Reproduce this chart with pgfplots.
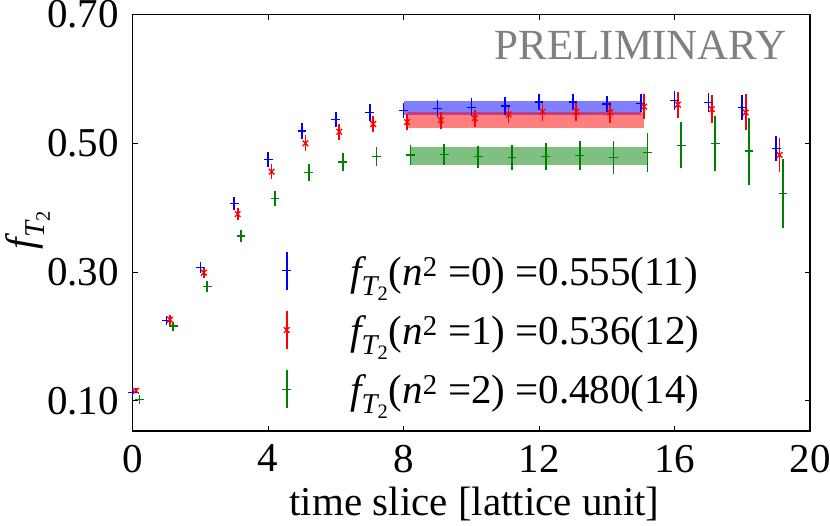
\documentclass[border=0pt]{standalone}
\usepackage{amsmath}
\usepackage{fontspec}
\setmainfont{Liberation Serif}
\usepackage{pgfplots}
\usepackage{pgfplotstable}
\pgfplotsset{compat=1.18}
\definecolor{dgreen}{RGB}{0,128,0}

\pgfplotstableread{
x y e
0 0.113 0.003
1 0.225 0.006
2 0.307 0.009
3 0.406 0.010
4 0.475 0.012
5 0.519 0.012
6 0.537 0.012
7 0.548 0.013
8 0.551 0.012
9 0.554 0.013
10 0.556 0.014
11 0.558 0.014
12 0.564 0.013
13 0.564 0.013
14 0.561 0.013
15 0.562 0.014
16 0.566 0.015
17 0.563 0.015
18 0.556 0.019
19 0.492 0.019
}\tblzero

\pgfplotstableread{
x y e
0.1 0.1155 0.004
1.1 0.226 0.008
2.1 0.299 0.0085
3.1 0.390 0.0095
4.1 0.456 0.012
5.1 0.500 0.0125
6.1 0.518 0.0125
7.1 0.530 0.013
8.1 0.533 0.013
9.1 0.536 0.013
10.1 0.539 0.013
11.1 0.545 0.014
12.1 0.549 0.014
13.1 0.549 0.014
14.1 0.548 0.016
15.1 0.557 0.019
16.1 0.560 0.020
17.1 0.553 0.022
18.1 0.548 0.028
19.1 0.482 0.027
}\tblone

\pgfplotstableread{
x y e
0.2 0.102 0.005
1.2 0.216 0.007
2.2 0.277 0.0085
3.2 0.356 0.010
4.2 0.414 0.012
5.2 0.455 0.013
6.2 0.471 0.0135
7.2 0.480 0.015
8.2 0.482 0.015
9.2 0.483 0.0166
10.2 0.479 0.0176
11.2 0.478 0.020
12.2 0.480 0.021
13.2 0.481 0.023
14.2 0.478 0.026
15.2 0.486 0.030
16.2 0.497 0.036
17.2 0.500 0.043
18.2 0.488 0.052
19.2 0.422 0.053
}\tbltwo

\newcommand{\fT}{$\textit{f}_{\textit{T}_{\text{2}}}$}

\begin{document}
\fontsize{41}{49}\selectfont
\begin{tikzpicture}
\begin{axis}[
  scale only axis,
  width=677.3pt, height=416.4pt,
  xmin=0, xmax=20, ymin=0.053, ymax=0.70,
  xtick={0,4,8,12,16,20},
  ytick={0.1,0.3,0.5,0.7},
  /pgf/number format/assume math mode=true,
  yticklabel style={/pgf/number format/.cd, fixed, fixed zerofill, precision=2},
  tick align=inside,
  major tick length=5pt,
  tick style={line width=1pt, black},
  axis line style={line width=1.2pt},
  xlabel={time slice [lattice unit]},
  ylabel={\fT},
  xlabel style={at={(axis description cs:0.5047,-0.204)}, anchor=base},
  ylabel style={at={(axis description cs:-0.155,0.483)}, anchor=center},
  error bars/error mark=none,
  clip=false,
]
% fit bands
\addplot[draw=none, fill=blue, fill opacity=0.5, forget plot] coordinates {(8,0.544) (15,0.544) (15,0.566) (8,0.566)} -- cycle;
\addplot[draw=none, fill=red, fill opacity=0.5, forget plot] coordinates {(8.1,0.524) (15.1,0.524) (15.1,0.548) (8.1,0.548)} -- cycle;
\addplot[draw=none, fill=dgreen, fill opacity=0.5, forget plot] coordinates {(8.2,0.466) (15.2,0.466) (15.2,0.494) (8.2,0.494)} -- cycle;

\addplot[color=blue, only marks, mark=+, mark size=4.4pt, mark options={line width=1.3pt},
  error bars/.cd, y dir=both, y explicit, error bar style={line width=1.7pt, color=blue}]
  table[x=x, y=y, y error=e] {\tblzero};
\addplot[color=red, only marks, mark=x, mark size=4pt, mark options={line width=1.3pt},
  error bars/.cd, y dir=both, y explicit, error bar style={line width=1.7pt, color=red}]
  table[x=x, y=y, y error=e] {\tblone};
\addplot[color=dgreen, only marks, mark=+, mark size=4.4pt, mark options={line width=1.3pt},
  error bars/.cd, y dir=both, y explicit, error bar style={line width=1.7pt, color=dgreen}]
  table[x=x, y=y, y error=e] {\tbltwo};

% key samples (gnuplot-style key inside the plot)
\addplot[color=blue, only marks, mark=+, mark size=4.4pt, mark options={line width=1.3pt}, forget plot,
  error bars/.cd, y dir=both, y explicit, error bar style={line width=1.7pt, color=blue}]
  coordinates {(4.547,0.3019) +- (0,0.0295)};
\addplot[color=red, only marks, mark=x, mark size=4pt, mark options={line width=1.3pt}, forget plot,
  error bars/.cd, y dir=both, y explicit, error bar style={line width=1.7pt, color=red}]
  coordinates {(4.547,0.2099) +- (0,0.0295)};
\addplot[color=dgreen, only marks, mark=+, mark size=4.4pt, mark options={line width=1.3pt}, forget plot,
  error bars/.cd, y dir=both, y explicit, error bar style={line width=1.7pt, color=dgreen}]
  coordinates {(4.547,0.1179) +- (0,0.0295)};

\node[anchor=base west, inner sep=0pt] at (axis cs:6.417,0.2798) {\fT(\textit{n}$^{\text{2}}$ =0) =0.555(11)};
\node[anchor=base west, inner sep=0pt] at (axis cs:6.417,0.1878) {\fT(\textit{n}$^{\text{2}}$ =1) =0.536(12)};
\node[anchor=base west, inner sep=0pt] at (axis cs:6.417,0.0958) {\fT(\textit{n}$^{\text{2}}$ =2) =0.480(14)};

\node[anchor=base east, text=gray, inner sep=0pt, font=\fontsize{43}{50}\selectfont] at (rel axis cs:0.965,0.891) {PRELIMINARY};

\coordinate (sw) at (rel axis cs:0,0);
\coordinate (ne) at (rel axis cs:1,1);
\end{axis}
\pgfresetboundingbox
\path[use as bounding box] ([xshift=-132.7pt,yshift=-94pt]sw) rectangle ([xshift=20pt,yshift=14.6pt]ne);
\end{tikzpicture}
\end{document}
